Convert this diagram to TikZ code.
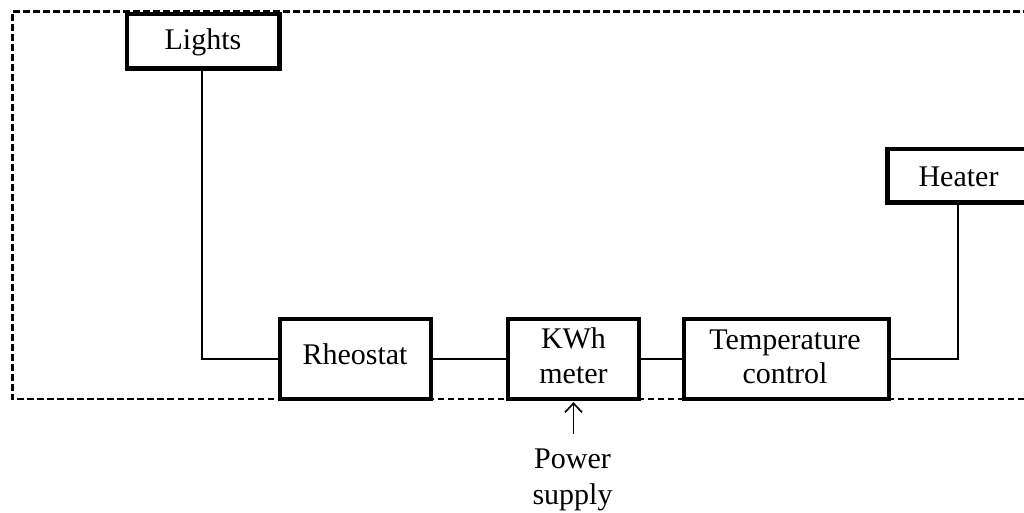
\documentclass[tikz,border=0pt]{standalone}
\usepackage{fontspec}
\setmainfont{Liberation Serif}
\usetikzlibrary{arrows.meta}
\begin{document}
\begin{tikzpicture}[x=1pt,y=-1pt,
  frame/.style={line width=2.8pt, dash pattern=on 6.7pt off 3.3pt},
  box/.style={draw, line width=4.2pt, fill=white, inner sep=0pt, outer sep=0pt},
  wire/.style={line width=2.8pt},
  lbl/.style={font=\fontsize{30}{36}\selectfont, inner sep=0pt, anchor=base},
  supplyarrow/.style={line width=1.6pt, -{Straight Barb[length=9pt,width=17pt,line width=1.6pt]}, shorten >=3pt, shorten <=14pt}]
\useasboundingbox (0,0) rectangle (1024,513);
\fill[white] (0,0) rectangle (1024,513);
% dashed boundary
\draw[frame] (1060,11.5) -- (12.5,11.5) -- (12.5,399) -- (1060,399);
% boxes
\node[box, minimum width=152.5pt, minimum height=54.5pt] (lights) at (203.25,41.25) {};
\node[box, minimum width=151pt, minimum height=80.5pt] (rheo) at (355.5,358.9) {};
\node[box, minimum width=131pt, minimum height=80.5pt] (kwh) at (573.5,358.9) {};
\node[box, minimum width=205pt, minimum height=80.5pt] (temp) at (786.5,358.9) {};
\node[box, minimum width=160pt, minimum height=53.5pt] (heater) at (967.5,175.75) {};
% texts
\node[lbl] (lightsT) at (203,50) {Lights};
\node[lbl] (rheoT) at (355,364) {Rheostat};
\node[lbl] (kwhT1) at (573.5,348) {KWh};
\node[lbl] (kwhT2) at (573.5,383) {meter};
\node[lbl] (tempT1) at (785,349) {Temperature};
\node[lbl] (tempT2) at (785,383) {control};
\node[lbl] (heaterT) at (958.5,186.5) {Heater};
\node[lbl] (pw) at (572.5,468) {Power};
\node[lbl] (sp) at (572.5,504) {supply};
% wires
\draw[wire] (lights.south -| 202,0) |- (rheo.west);
\draw[wire] (rheo.east) -- (kwh.west);
\draw[wire] (kwh.east) -- (temp.west);
\draw[wire] (temp.east) -| (heater.south -| 958,0);
% supply arrow
\draw[supplyarrow] (pw.north -| kwh.south) -- (kwh.south);
\end{tikzpicture}
\end{document}
